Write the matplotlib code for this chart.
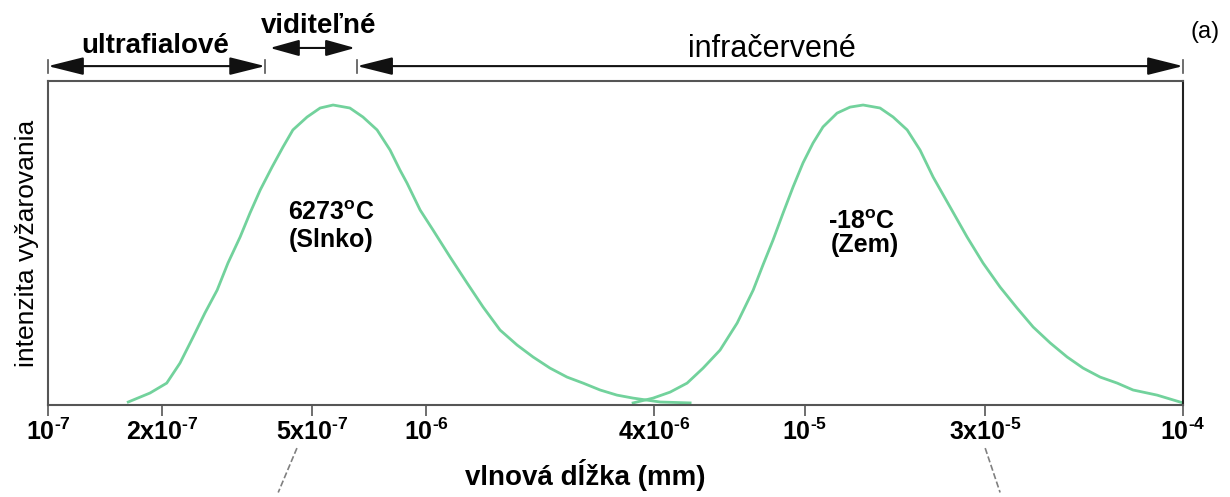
import matplotlib
matplotlib.use("Agg")
import matplotlib.pyplot as plt

plt.rcParams["font.family"] = ["Liberation Sans", "DejaVu Sans"]
plt.rcParams["mathtext.fontset"] = "custom"
plt.rcParams["mathtext.rm"] = "Liberation Sans:bold"
plt.rcParams["mathtext.it"] = "Liberation Sans:bold"
plt.rcParams["mathtext.bf"] = "Liberation Sans:bold"
plt.rcParams["mathtext.default"] = "rm"

# vlnova dlzka (mm) a relativna intenzita, odcitane z obrazka
slnko_x = [1.63e-7, 1.861e-7, 2.06e-7, 2.234e-7, 2.42e-7, 2.60e-7, 2.80e-7, 2.99e-7,
           3.22e-7, 3.42e-7, 3.64e-7, 3.91e-7, 4.18e-7, 4.44e-7, 4.84e-7, 5.24e-7,
           5.67e-7, 6.28e-7, 6.80e-7, 7.41e-7, 8.02e-7, 8.52e-7, 8.89e-7, 9.63e-7,
           1.042e-6, 1.156e-6, 1.281e-6, 1.412e-6, 1.566e-6, 1.737e-6, 1.915e-6,
           2.123e-6, 2.355e-6, 2.596e-6, 2.88e-6, 3.19e-6, 3.52e-6, 4.15e-6, 4.98e-6]
slnko_y = [0.01, 0.04, 0.073, 0.14, 0.227, 0.307, 0.383, 0.473,
           0.56, 0.64, 0.717, 0.793, 0.86, 0.917, 0.96, 0.99,
           1.0, 0.99, 0.96, 0.917, 0.85, 0.783, 0.74, 0.65,
           0.583, 0.493, 0.407, 0.327, 0.25, 0.2, 0.16,
           0.123, 0.093, 0.073, 0.05, 0.033, 0.023, 0.01, 0.007]

zem_x = [3.52e-6, 3.975e-6, 4.41e-6, 4.89e-6, 5.39e-6, 5.975e-6, 6.63e-6, 7.31e-6,
         7.76e-6, 8.25e-6, 8.77e-6, 9.32e-6, 9.90e-6, 1.052e-5, 1.118e-5, 1.218e-5,
         1.318e-5, 1.427e-5, 1.582e-5, 1.713e-5, 1.866e-5, 2.018e-5, 2.185e-5, 2.423e-5,
         2.687e-5, 2.962e-5, 3.285e-5, 3.643e-5, 4.017e-5, 4.455e-5, 4.94e-5, 5.445e-5,
         6.04e-5, 6.70e-5, 7.38e-5, 8.54e-5, 1e-4]
zem_y = [0.007, 0.023, 0.043, 0.073, 0.123, 0.183, 0.273, 0.383,
         0.467, 0.55, 0.64, 0.727, 0.807, 0.873, 0.927, 0.973,
         0.993, 1.0, 0.99, 0.96, 0.917, 0.85, 0.76, 0.66,
         0.56, 0.473, 0.393, 0.323, 0.26, 0.207, 0.16, 0.123,
         0.093, 0.073, 0.05, 0.033, 0.007]

tick_pos = [1e-7, 2e-7, 5e-7, 1e-6, 4e-6, 1e-5, 3e-5, 1e-4]
tick_lab = [r"$10^{\text{-7}}$", r"$2x10^{\text{-7}}$", r"$5x10^{\text{-7}}$", r"$10^{\text{-6}}$",
            r"$4x10^{\text{-6}}$", r"$10^{\text{-5}}$", r"$3x10^{\text{-5}}$", r"$10^{\text{-4}}$"]

# hranice oblasti spektra
uv = (1e-7, 3.75e-7)
vis = (3.86e-7, 6.48e-7)
ir = (6.56e-7, 1e-4)

green = "#72d29c"
frame = "#555555"

fig = plt.figure(figsize=(12.3, 4.97), dpi=100)
ax = fig.add_axes([0.039, 0.1851, 0.9228, 0.6519])

ax.plot(slnko_x, slnko_y, color=green, lw=2)
ax.plot(zem_x, zem_y, color=green, lw=2)

ax.set_xscale("log")
ax.set_xlim(1e-7, 1e-4)
ax.set_ylim(0, 1.08)
ax.set_xticks(tick_pos)
ax.set_xticklabels(tick_lab, fontsize=18)
ax.minorticks_off()
ax.set_yticks([])
ax.tick_params(axis="x", direction="out", length=8, width=1.2, color=frame, pad=2)
for s in ax.spines.values():
    s.set_color(frame)
    s.set_linewidth(1.5)
ax.spines["right"].set_color("#222222")

ax.set_xlabel("vlnová dĺžka (mm)", fontsize=20, fontweight="bold")
ax.xaxis.set_label_coords(0.473, -0.167)
ax.set_ylabel("intenzita vyžarovania", fontsize=19)
ax.yaxis.set_label_coords(-0.008, 0.5)

ax.text(5.6e-7, 0.64, r"6273$^{\mathrm{o}}$C", ha="center", va="center", fontsize=18, fontweight="bold")
ax.text(5.6e-7, 0.55, "(Slnko)", ha="center", va="center", fontsize=18, fontweight="bold")
ax.text(1.41e-5, 0.61, r"-18$^{\mathrm{o}}$C", ha="center", va="center", fontsize=18, fontweight="bold")
ax.text(1.44e-5, 0.533, "(Zem)", ha="center", va="center", fontsize=18, fontweight="bold")

tr = ax.get_xaxis_transform()
arrow = dict(arrowstyle="<|-|>,head_length=2.2,head_width=0.55", color="#111111", lw=1.5,
             shrinkA=0, shrinkB=0)
for a, b, y in [(uv[0], uv[1], 1.046), (ir[0], ir[1], 1.046)]:
    ax.annotate("", xy=(b, y), xytext=(a, y), xycoords=tr, textcoords=tr,
                arrowprops=arrow, annotation_clip=False)
    ax.plot([a, a], [y - 0.02, y + 0.02], transform=tr, color=frame, lw=1.2, clip_on=False)
    ax.plot([b, b], [y - 0.02, y + 0.02], transform=tr, color=frame, lw=1.2, clip_on=False)
ax.annotate("", xy=(vis[1], 1.102), xytext=(vis[0], 1.102), xycoords=tr, textcoords=tr,
            arrowprops=dict(arrow, arrowstyle="<|-|>,head_length=1.8,head_width=0.5"),
            annotation_clip=False)

ax.text(1.92e-7, 1.108, "ultrafialové", transform=tr, ha="center", va="center", fontsize=20, fontweight="bold")
ax.text(5.2e-7, 1.17, "viditeľné", transform=tr, ha="center", va="center", fontsize=20, fontweight="bold")
ax.text(8.2e-6, 1.10, "infračervené", transform=tr, ha="center", va="center", fontsize=22)
ax.text(1.019, 1.151, "(a)", transform=ax.transAxes, ha="center", va="center", fontsize=17)

# preruzovane ciary pod osou
ax.plot([4.55e-7, 4.06e-7], [-0.133, -0.27], transform=tr, color="gray", lw=1.2, ls="--", clip_on=False)
ax.plot([3.0e-5, 3.285e-5], [-0.133, -0.27], transform=tr, color="gray", lw=1.2, ls="--", clip_on=False)

fig.savefig("out.png", dpi=100)
